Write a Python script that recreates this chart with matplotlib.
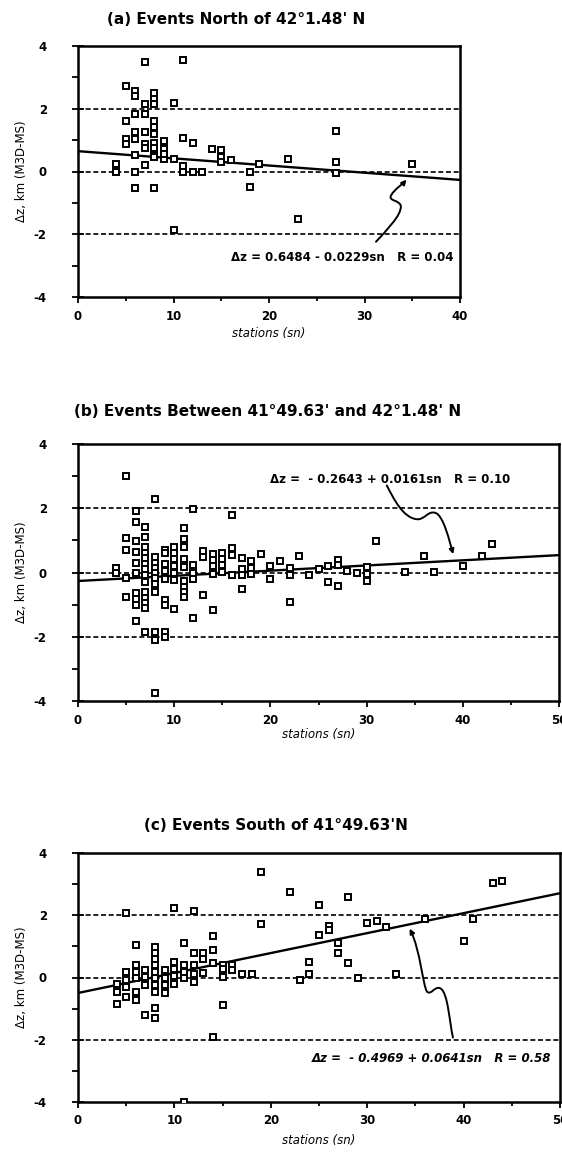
import matplotlib
matplotlib.use("Agg")
import matplotlib.pyplot as plt
from matplotlib.path import Path
from matplotlib.patches import FancyArrowPatch
from matplotlib.ticker import MultipleLocator

plt.rcParams['font.family'] = ['DejaVu Sans']
plt.rcParams['font.weight'] = 'bold'
plt.rcParams['axes.unicode_minus'] = False

# (a) events north of 42°1.48' N
north_sn = [7, 11, 5, 6, 6, 7, 8, 8, 8, 10,
            5, 6, 7, 8, 8, 8, 6, 7, 5, 5,
            6, 7, 7, 8, 8, 9, 9, 9, 8, 6,
            10, 11, 12, 11, 11, 12, 13, 14, 15, 15,
            15, 16, 18, 18, 19, 22, 27, 27, 27, 23,
            35, 4, 4, 6, 7, 6, 8, 10, 8, 9]
north_dz = [3.48, 3.55, 2.74, 2.55, 2.42, 2.14, 2.51, 2.32, 2.14, 2.17,
            1.62, 1.82, 1.82, 1.61, 1.41, 1.21, 1.26, 1.26, 1.02, 0.89,
            1.03, 0.89, 0.75, 0.92, 0.74, 0.96, 0.72, 0.39, 0.53, 0.51,
            0.39, 1.06, 0.90, 0.18, 0.00, 0.00, 0.00, 0.71, 0.69, 0.45,
            0.30, 0.37, 0.00, -0.48, 0.24, 0.40, 1.28, 0.29, -0.05, -1.51,
            0.23, 0.23, -0.03, 0.00, 0.20, -0.53, -0.53, -1.86, 0.45, 0.55]

# (b) events between 41°49.63' and 42°1.48' N
between = {
    4: [0.15, 0.0],
    5: [3.0, 1.08, 0.7, -0.18, -0.76],
    6: [1.9, 1.56, 0.99, 0.64, 0.3, 0.0, -0.65, -0.83, -1.0, -1.52],
    7: [1.42, 1.12, 0.78, 0.6, 0.45, 0.28, 0.12, -0.08, -0.3, -0.62, -0.78, -0.95, -1.12, -1.85],
    8: [2.3, 0.47, 0.3, 0.15, 0.0, -0.16, -0.36, -0.6, -1.85, -2.1, -3.75],
    9: [0.7, 0.6, 0.25, 0.05, -0.2, -0.85, -1.02, -1.85, -2.0],
    10: [0.78, 0.62, 0.42, 0.2, 0.0, -0.22, -1.15],
    11: [1.37, 1.05, 0.8, 0.42, 0.18, -0.26, -0.45, -0.6, -0.75],
    12: [1.97, 0.22, 0.0, -0.2, -1.42],
    13: [0.67, 0.47, -0.7],
    14: [0.57, 0.38, 0.2, -0.05, -1.17],
    15: [0.62, 0.42, 0.22, 0.02],
    16: [1.78, 0.75, 0.55, -0.08],
    17: [0.45, 0.12, -0.08, -0.5],
    18: [0.36, 0.15, -0.05],
    19: [0.58],
    20: [0.21, -0.19],
    21: [0.35],
    22: [0.15, -0.08, -0.92],
    23: [0.5],
    24: [-0.08],
    25: [0.1],
    26: [0.2, -0.3],
    27: [0.4, 0.24, -0.43],
    28: [0.05],
    29: [0.0],
    30: [0.18, -0.05, -0.26],
    31: [0.98],
    34: [0.03],
    36: [0.5],
    37: [0.02],
    40: [0.2],
    42: [0.5],
    43: [0.9],
}
between_sn = [k for k, v in between.items() for _ in v]
between_dz = [d for v in between.values() for d in v]

# (c) events south of 41°49.63' N
south = {
    4: [-0.22, -0.47, -0.85],
    5: [2.08, 0.19, -0.08, -0.3, -0.64],
    6: [1.06, 0.4, 0.19, 0.0, -0.47, -0.72],
    7: [0.24, 0.03, -0.24, -1.2],
    8: [0.99, 0.8, 0.6, 0.41, 0.19, -0.03, -0.24, -0.45, -0.98, -1.3],
    9: [0.24, 0.0, -0.24, -0.51],
    10: [2.23, 0.51, 0.27, 0.05, -0.2],
    11: [1.1, 0.41, 0.19, -0.03, -4.0],
    12: [2.14, 0.8, 0.41, 0.1, -0.15],
    13: [0.8, 0.6, 0.15],
    14: [1.33, 0.88, 0.46, -1.9],
    15: [0.4, 0.27, 0.03, -0.88],
    16: [0.41, 0.25],
    17: [0.1],
    18: [0.1],
    19: [3.38, 1.72],
    22: [2.74],
    23: [-0.08],
    24: [0.5, 0.12],
    25: [2.33, 1.38],
    26: [1.65, 1.52],
    27: [1.12, 0.78],
    28: [2.6, 0.47],
    29: [0.0],
    30: [1.76],
    31: [1.83],
    32: [1.63],
    33: [0.12],
    36: [1.88],
    40: [1.18],
    41: [1.88],
    43: [3.03],
    44: [3.1],
}
south_sn = [k for k, v in south.items() for _ in v]
south_dz = [d for v in south.values() for d in v]

# regression coefficients (intercept, slope, R)
fits = [(0.6484, -0.0229, 0.04), (-0.2643, 0.0161, 0.10), (-0.4969, 0.0641, 0.58)]


def make_panel(ax, sn, dz, xmax, fit, xlabelpad):
    a, b, r = fit
    for lvl in (-2, 0, 2):
        ax.axhline(lvl, color='black', lw=1.2, ls=(0, (3, 1.6)), zorder=1)
    ax.plot([0, xmax], [a, a + b * xmax], color='black', lw=1.7, zorder=2)
    ax.plot(sn, dz, 's', ms=4.2, mfc='white', mec='black', mew=1.4, zorder=3)
    ax.set_xlim(0, xmax)
    ax.set_ylim(-4, 4)
    ax.xaxis.set_major_locator(MultipleLocator(10))
    ax.xaxis.set_minor_locator(MultipleLocator(5))
    ax.yaxis.set_major_locator(MultipleLocator(2))
    ax.yaxis.set_minor_locator(MultipleLocator(1))
    ax.tick_params(axis='y', which='major', direction='inout', length=9, width=1.3,
                   pad=18, labelsize=8.5)
    ax.tick_params(axis='y', which='minor', direction='out', length=4, width=1.3)
    ax.tick_params(axis='x', which='major', direction='out', length=4, width=1.3,
                   pad=5, labelsize=8.5)
    ax.tick_params(axis='x', which='minor', direction='out', length=3, width=1.3)
    for s in ax.spines.values():
        s.set_linewidth(1.8)
    ax.set_ylabel('Δz, km (M3D-MS)', fontsize=8.5, labelpad=4)
    ax.set_xlabel('stations (sn)', fontsize=8.5, style='italic', labelpad=xlabelpad)


def squiggle(ax, pts):
    codes = [Path.MOVETO] + [Path.CURVE4] * (len(pts) - 1)
    arr = FancyArrowPatch(path=Path(pts, codes), arrowstyle='-|>', mutation_scale=7,
                          color='black', lw=1.4, zorder=4)
    ax.add_patch(arr)


fig = plt.figure(figsize=(5.62, 11.53), dpi=100)
W, H = 562, 1153


def box(l, t, r, b):
    return [l / W, 1 - b / H, (r - l) / W, (b - t) / H]


ax1 = fig.add_axes(box(78, 46, 460, 297))
ax2 = fig.add_axes(box(78, 444, 559, 701))
ax3 = fig.add_axes(box(78, 853, 560, 1102))

make_panel(ax1, north_sn, north_dz, 40, fits[0], 3)
make_panel(ax2, between_sn, between_dz, 50, fits[1], 1)
make_panel(ax3, south_sn, south_dz, 50, fits[2], 5)

fig.text(236 / W, 1 - 19 / H, "(a) Events North of 42°1.48' N", ha='center', va='center', fontsize=11)
fig.text(268 / W, 1 - 412 / H, "(b) Events Between 41°49.63' and 42°1.48' N", ha='center', va='center', fontsize=11)
fig.text(276 / W, 1 - 825 / H, "(c) Events South of 41°49.63'N", ha='center', va='center', fontsize=11)

ax1.text(39.3, -2.75, 'Δz = 0.6484 - 0.0229sn   R = 0.04', ha='right', va='center', fontsize=8.5)
ax2.text(44.9, 2.88, 'Δz =  - 0.2643 + 0.0161sn   R = 0.10', ha='right', va='center', fontsize=8.5)
ax3.text(49.1, -2.6, 'Δz =  - 0.4969 + 0.0641sn   R = 0.58', ha='right', va='center', fontsize=8.5,
         style='italic')

squiggle(ax1, [(31.2, -2.24), (32.2, -1.9), (33.9, -1.4), (33.8, -1.1),
               (33.7, -0.9), (32.4, -0.95), (32.8, -0.75),
               (33.2, -0.55), (34.0, -0.4), (34.4, -0.26)])
squiggle(ax2, [(32.1, 2.71), (32.8, 2.3), (33.8, 1.7), (35.2, 1.66),
               (36.0, 1.62), (36.4, 1.95), (37.2, 1.85),
               (38.0, 1.75), (38.6, 1.0), (39.0, 0.57)])
squiggle(ax3, [(38.9, -1.93), (38.5, -1.4), (38.4, -0.5), (37.6, -0.35),
               (37.0, -0.25), (36.6, -0.6), (36.2, -0.45),
               (35.8, -0.3), (35.5, 0.9), (34.4, 1.57)])

fig.savefig('out.png', dpi=100)
